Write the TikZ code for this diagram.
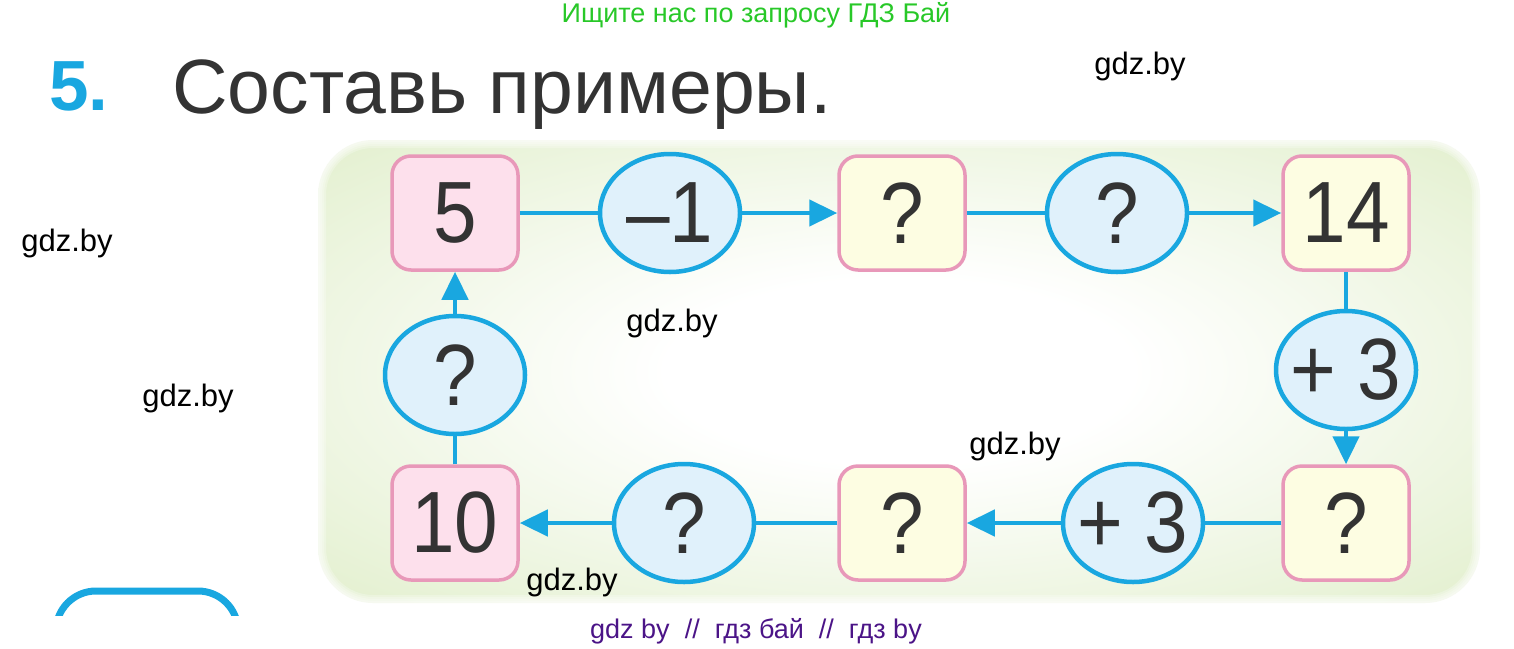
\documentclass[tikz,border=0pt]{standalone}
\usepackage{fontspec}
\usepackage{graphicx}
\setmainfont{Liberation Sans}
\usetikzlibrary{shapes.geometric,arrows.meta}

\definecolor{lineblue}{RGB}{25,167,224}
\definecolor{ovalfill}{RGB}{224,241,251}
\definecolor{pinkfill}{RGB}{253,224,236}
\definecolor{pinkline}{RGB}{232,152,185}
\definecolor{yellowfill}{RGB}{253,253,226}
\definecolor{panelgreen}{RGB}{222,237,198}
\definecolor{titlegray}{RGB}{51,51,51}
\definecolor{searchgreen}{RGB}{40,200,40}
\definecolor{markpurple}{RGB}{75,20,135}

\pgfdeclareradialshading{panelglow}{\pgfpoint{0bp}{0bp}}{color(0bp)=(white); color(10bp)=(white); color(40bp)=(panelgreen); color(72bp)=(panelgreen)}

\newcommand{\cardtext}[1]{\scalebox{0.9}[1]{#1}}
\newcommand{\optext}[1]{\makebox[0pt]{\cardtext{#1}}}

\tikzset{
    numbox/.style={rectangle,rounded corners=19pt,draw=pinkline,line width=3.5pt,
        minimum width=126pt,minimum height=114pt,inner sep=0pt,
        font=\fontsize{87}{87}\selectfont,text=titlegray},
    pinkbox/.style={numbox,fill=pinkfill},
    yellowbox/.style={numbox,fill=yellowfill},
    opnode/.style={ellipse,draw=lineblue,fill=ovalfill,line width=4.5pt,
        minimum width=140pt,minimum height=118pt,inner sep=0pt,
        font=\fontsize{87}{87}\selectfont,text=titlegray},
    link/.style={lineblue,line width=4.5pt},
    arrowlink/.style={link,-{Triangle[length=28pt,width=26pt]}},
    watermark/.style={font=\fontsize{31}{31}\selectfont,text=black,inner sep=0pt}
}

\begin{document}
\begin{tikzpicture}[x=1pt,y=-1pt]
    \useasboundingbox (0,0) rectangle (1514,648);

    % panel behind the chain
    \shade[shading=panelglow,rounded corners=55pt] (318,140) rectangle (1480,603);
    \foreach \w in {4,8,12,16}
        \draw[white,opacity=0.25,line width=\w pt,rounded corners=55pt] (318,140) rectangle (1480,603);

    % heading
    \node[text=searchgreen,font=\fontsize{27}{27}\selectfont,inner sep=0pt] (search) at (756,15) {Ищите нас по запросу ГДЗ Бай};
    \node[text=lineblue,font=\fontsize{71}{71}\selectfont\bfseries,anchor=base west,inner sep=0pt] (tasknum) at (49,110) {5.};
    \node[text=titlegray,font=\fontsize{77}{77}\selectfont,anchor=base west,inner sep=0pt] (title) at (172,113) {Составь примеры.};

    % top row
    \node[pinkbox] (n5) at (455,213) {\cardtext{5}};
    \node[opnode] (op1) at (670,213) {\optext{–1}};
    \node[yellowbox] (q1) at (902,213) {\cardtext{?}};
    \node[opnode] (op2) at (1117,213) {\optext{?}};
    \node[yellowbox] (n14) at (1346,213) {\cardtext{14}};
    % right side
    \node[opnode] (op3) at (1346,370) {\optext{+ 3}};
    % bottom row
    \node[yellowbox] (q2) at (1346,523) {\cardtext{?}};
    \node[opnode] (op4) at (1133,523) {\optext{+ 3}};
    \node[yellowbox] (q3) at (902,523) {\cardtext{?}};
    \node[opnode] (op5) at (684,523) {\optext{?}};
    \node[pinkbox] (n10) at (455,523) {\cardtext{10}};
    % left side
    \node[opnode] (op6) at (455,375) {\optext{?}};

    \draw[link] (n5) -- (op1);
    \draw[arrowlink] (op1) -- (q1);
    \draw[link] (q1) -- (op2);
    \draw[arrowlink] (op2) -- (n14);
    \draw[link] (n14) -- (op3);
    \draw[arrowlink] (op3) -- (q2);
    \draw[link] (q2) -- (op4);
    \draw[arrowlink] (op4) -- (q3);
    \draw[link] (q3) -- (op5);
    \draw[arrowlink] (op5) -- (n10);
    \draw[link] (n10) -- (op6);
    \draw[arrowlink] (op6) -- (n5);

    % watermarks
    \node[watermark] (wm1) at (1140,66) {gdz.by};
    \node[watermark] (wm2) at (67,243) {gdz.by};
    \node[watermark] (wm3) at (672,323) {gdz.by};
    \node[watermark] (wm4) at (188,398) {gdz.by};
    \node[watermark] (wm5) at (1015,446) {gdz.by};
    \node[watermark] (wm6) at (572,582) {gdz.by};
    \node[text=markpurple,font=\fontsize{27}{27}\selectfont,inner sep=0pt] (footer) at (756,631) {gdz by \ // \ гдз бай \ // \ гдз by};

    % start of the next frame, cut off
    \begin{scope}
        \clip (0,560) rectangle (300,615);
        \draw[lineblue,line width=7pt,rounded corners=40pt] (56,660) -- (56,591) -- (238,591) -- (238,660);
    \end{scope}
\end{tikzpicture}
\end{document}
